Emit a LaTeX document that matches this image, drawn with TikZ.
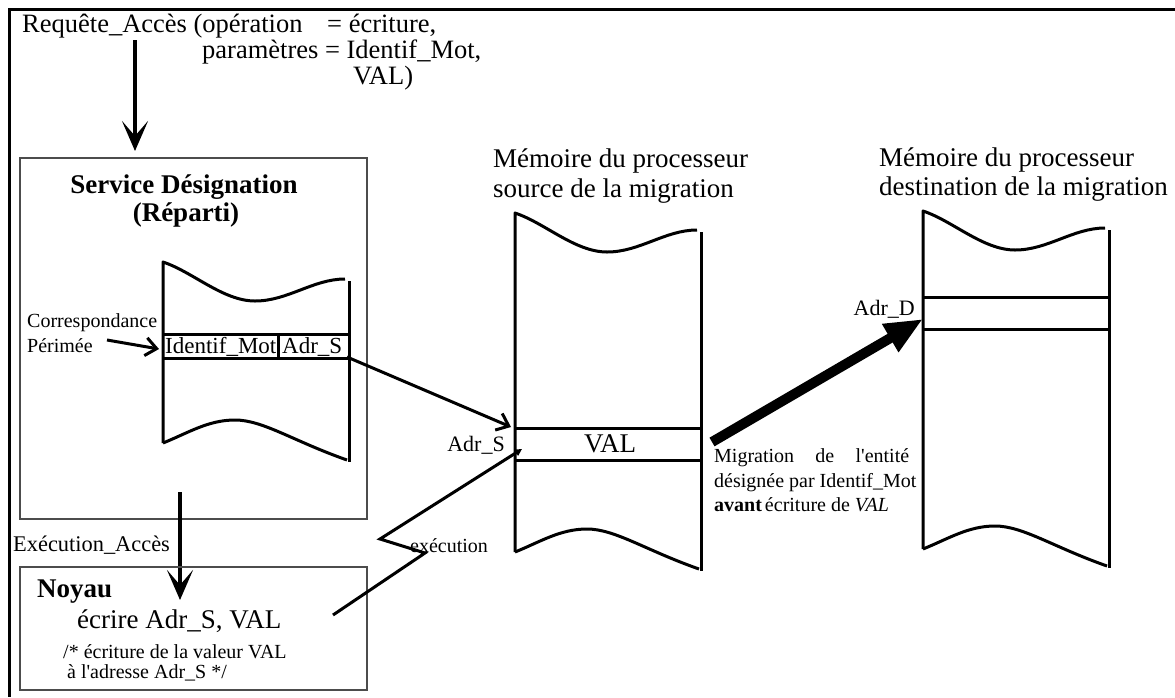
\documentclass[tikz,border=0pt]{standalone}
\usepackage{fontspec}
\setmainfont{Liberation Serif}[Ligatures=TeXOff]
\usetikzlibrary{arrows.meta}
\newcommand\szL{\fontsize{27}{29}\selectfont}
\newcommand\szH{\fontsize{26.5}{26}\selectfont}
\newcommand\szM{\fontsize{23}{25}\selectfont}
\newcommand\szS{\fontsize{20}{22}\selectfont}
\tikzset{
  memline/.style={line width=3pt, line join=round},
  lbl/.style={inner sep=0pt, anchor=base west},
  grbox/.style={draw=black!70, line width=2.5pt},
  bigarrow/.style={line width=4pt, -{Stealth[length=30pt,width=26pt,inset=15pt]}},
  thinarrow/.style={line width=3pt, -{Straight Barb[length=11pt,width=18pt,line width=3pt]}},
}
\newcommand\memcol[3]{%
  \begin{scope}[shift={(#1,#2)}]
    \draw[memline] (0,#3) -- (0,0) .. controls (30,10) and (60,39) .. (92,39)
      .. controls (125,39) and (150,17) .. (182,17);
    \draw[memline] (186,19) -- (186,{#3+19});
    \begin{scope}[shift={(0,#3)}]
      \draw[memline] (0,0) .. controls (25,-10) and (45,-23) .. (72,-23)
        .. controls (100,-23) and (130,-2) .. (184,17);
    \end{scope}
  \end{scope}}
\begin{document}
\begin{tikzpicture}[x=1pt,y=-1pt]
\useasboundingbox (0,0) rectangle (1175,697);
% frame
\draw[line width=3pt] (1175,9) -- (9,9) -- (9,697);

% header
\node[lbl] (h1) at (22,32) {\szH Requête\_Accès (opération};
\node[lbl] (h2) at (327,32) {\szH = écriture,};
\node[lbl] (h3) at (202,58) {\szH paramètres = Identif\_Mot,};
\node[lbl] (h4) at (353,84) {\szH VAL)};
\coordinate (a1s) at (135,40);
\coordinate (a1e) at (135,151);
\draw[bigarrow] (a1s) -- (a1e);

% Service designation box
\draw[grbox] (20,158) rectangle (367,519);
\node[inner sep=0pt, anchor=base] (sd1) at (184,193) {\szL\bfseries Service Désignation};
\node[inner sep=0pt, anchor=base] (sd2) at (186,221) {\szL\bfseries (Réparti)};

% memory 1
\memcol{163}{262}{181}
\draw[memline] (163,334) -- (349,334);
\draw[memline] (163,358) -- (349,358);
\draw[memline] (278,334) -- (278,358);
\node[lbl] (idm) at (165,353) {\szM Identif\_Mot};
\node[lbl] (ads1) at (282,353) {\szM Adr\_S};
\node[lbl] (corr) at (27,327) {\szS Correspondance};
\node[lbl] (peri) at (27,352) {\szS Périmée};
\coordinate (ca1) at (107,340);
\coordinate (ca2) at (159,349);
\draw[thinarrow] (ca1) -- (ca2);

% memory 2
\node[lbl] (m2t1) at (493,167) {\szL Mémoire du processeur};
\node[lbl] (m2t2) at (493,197) {\szL source de la migration};
\memcol{515}{213}{339}
\draw[memline] (515,428) -- (702,428);
\draw[memline] (515,460) -- (702,460);
\node[inner sep=0pt, anchor=base] (val) at (610,452) {\szL VAL};
\node[inner sep=0pt, anchor=base east] (ads2) at (505,451) {\fontsize{22}{24}\selectfont Adr\_S};
\coordinate (s1) at (347,357);
\coordinate (s2) at (511,427);
\draw[thinarrow] (s1) -- (s2);

% memory 3
\node[lbl] (m3t1) at (879,166) {\szL Mémoire du processeur};
\node[lbl] (m3t2) at (879,195) {\szL destination de la migration};
\memcol{923}{211}{338}
\draw[memline] (923,297) -- (1110,297);
\draw[memline] (923,329) -- (1110,329);
\node[inner sep=0pt, anchor=base east] (adD) at (915,315) {\fontsize{22}{24}\selectfont Adr\_D};

% migration arrow
\coordinate (mg1) at (712,442);
\coordinate (mg2) at (923,319);
\draw[line width=10pt, -{Triangle[length=38pt,width=30pt]}] (mg1) -- (mg2);
\node[lbl] (mt1) at (714,462) {\szS\makebox[195pt][s]{Migration de l'entité}};
\node[lbl] (mt2) at (714,487) {\szS désignée par Identif\_Mot};
\node[lbl] (mt3) at (714,511) {\szS\textbf{avant}\hspace{3pt}écriture de \textit{VAL}};

% execution
\coordinate (e1) at (180,492);
\coordinate (e2) at (180,600);
\draw[bigarrow] (e1) -- (e2);
\node[lbl] (exa) at (13,551) {\fontsize{22.4}{24}\selectfont Exécution\_Accès};

% Noyau box
\draw[grbox] (20,567) rectangle (367,690);
\node[lbl] (noy) at (37,597) {\szL\bfseries Noyau};
\node[lbl] (ecr) at (77,628) {\szL écrire Adr\_S, VAL};
\node[lbl] (c1) at (63,658) {\szS /* écriture de la valeur VAL};
\node[lbl] (c2) at (67,678) {\szS à l'adresse Adr\_S */};

% zigzag execution
\node[lbl] (exe) at (410,552) {\szS exécution};
\coordinate (z0) at (333,615);
\coordinate (z1) at (425,553);
\coordinate (z2) at (380,539);
\coordinate (z3) at (522,449);
\draw[line width=3pt, line join=miter, -{Triangle[length=7pt,width=7pt]}] (z0) -- (z1) -- (z2) -- (z3);
\end{tikzpicture}
\end{document}
